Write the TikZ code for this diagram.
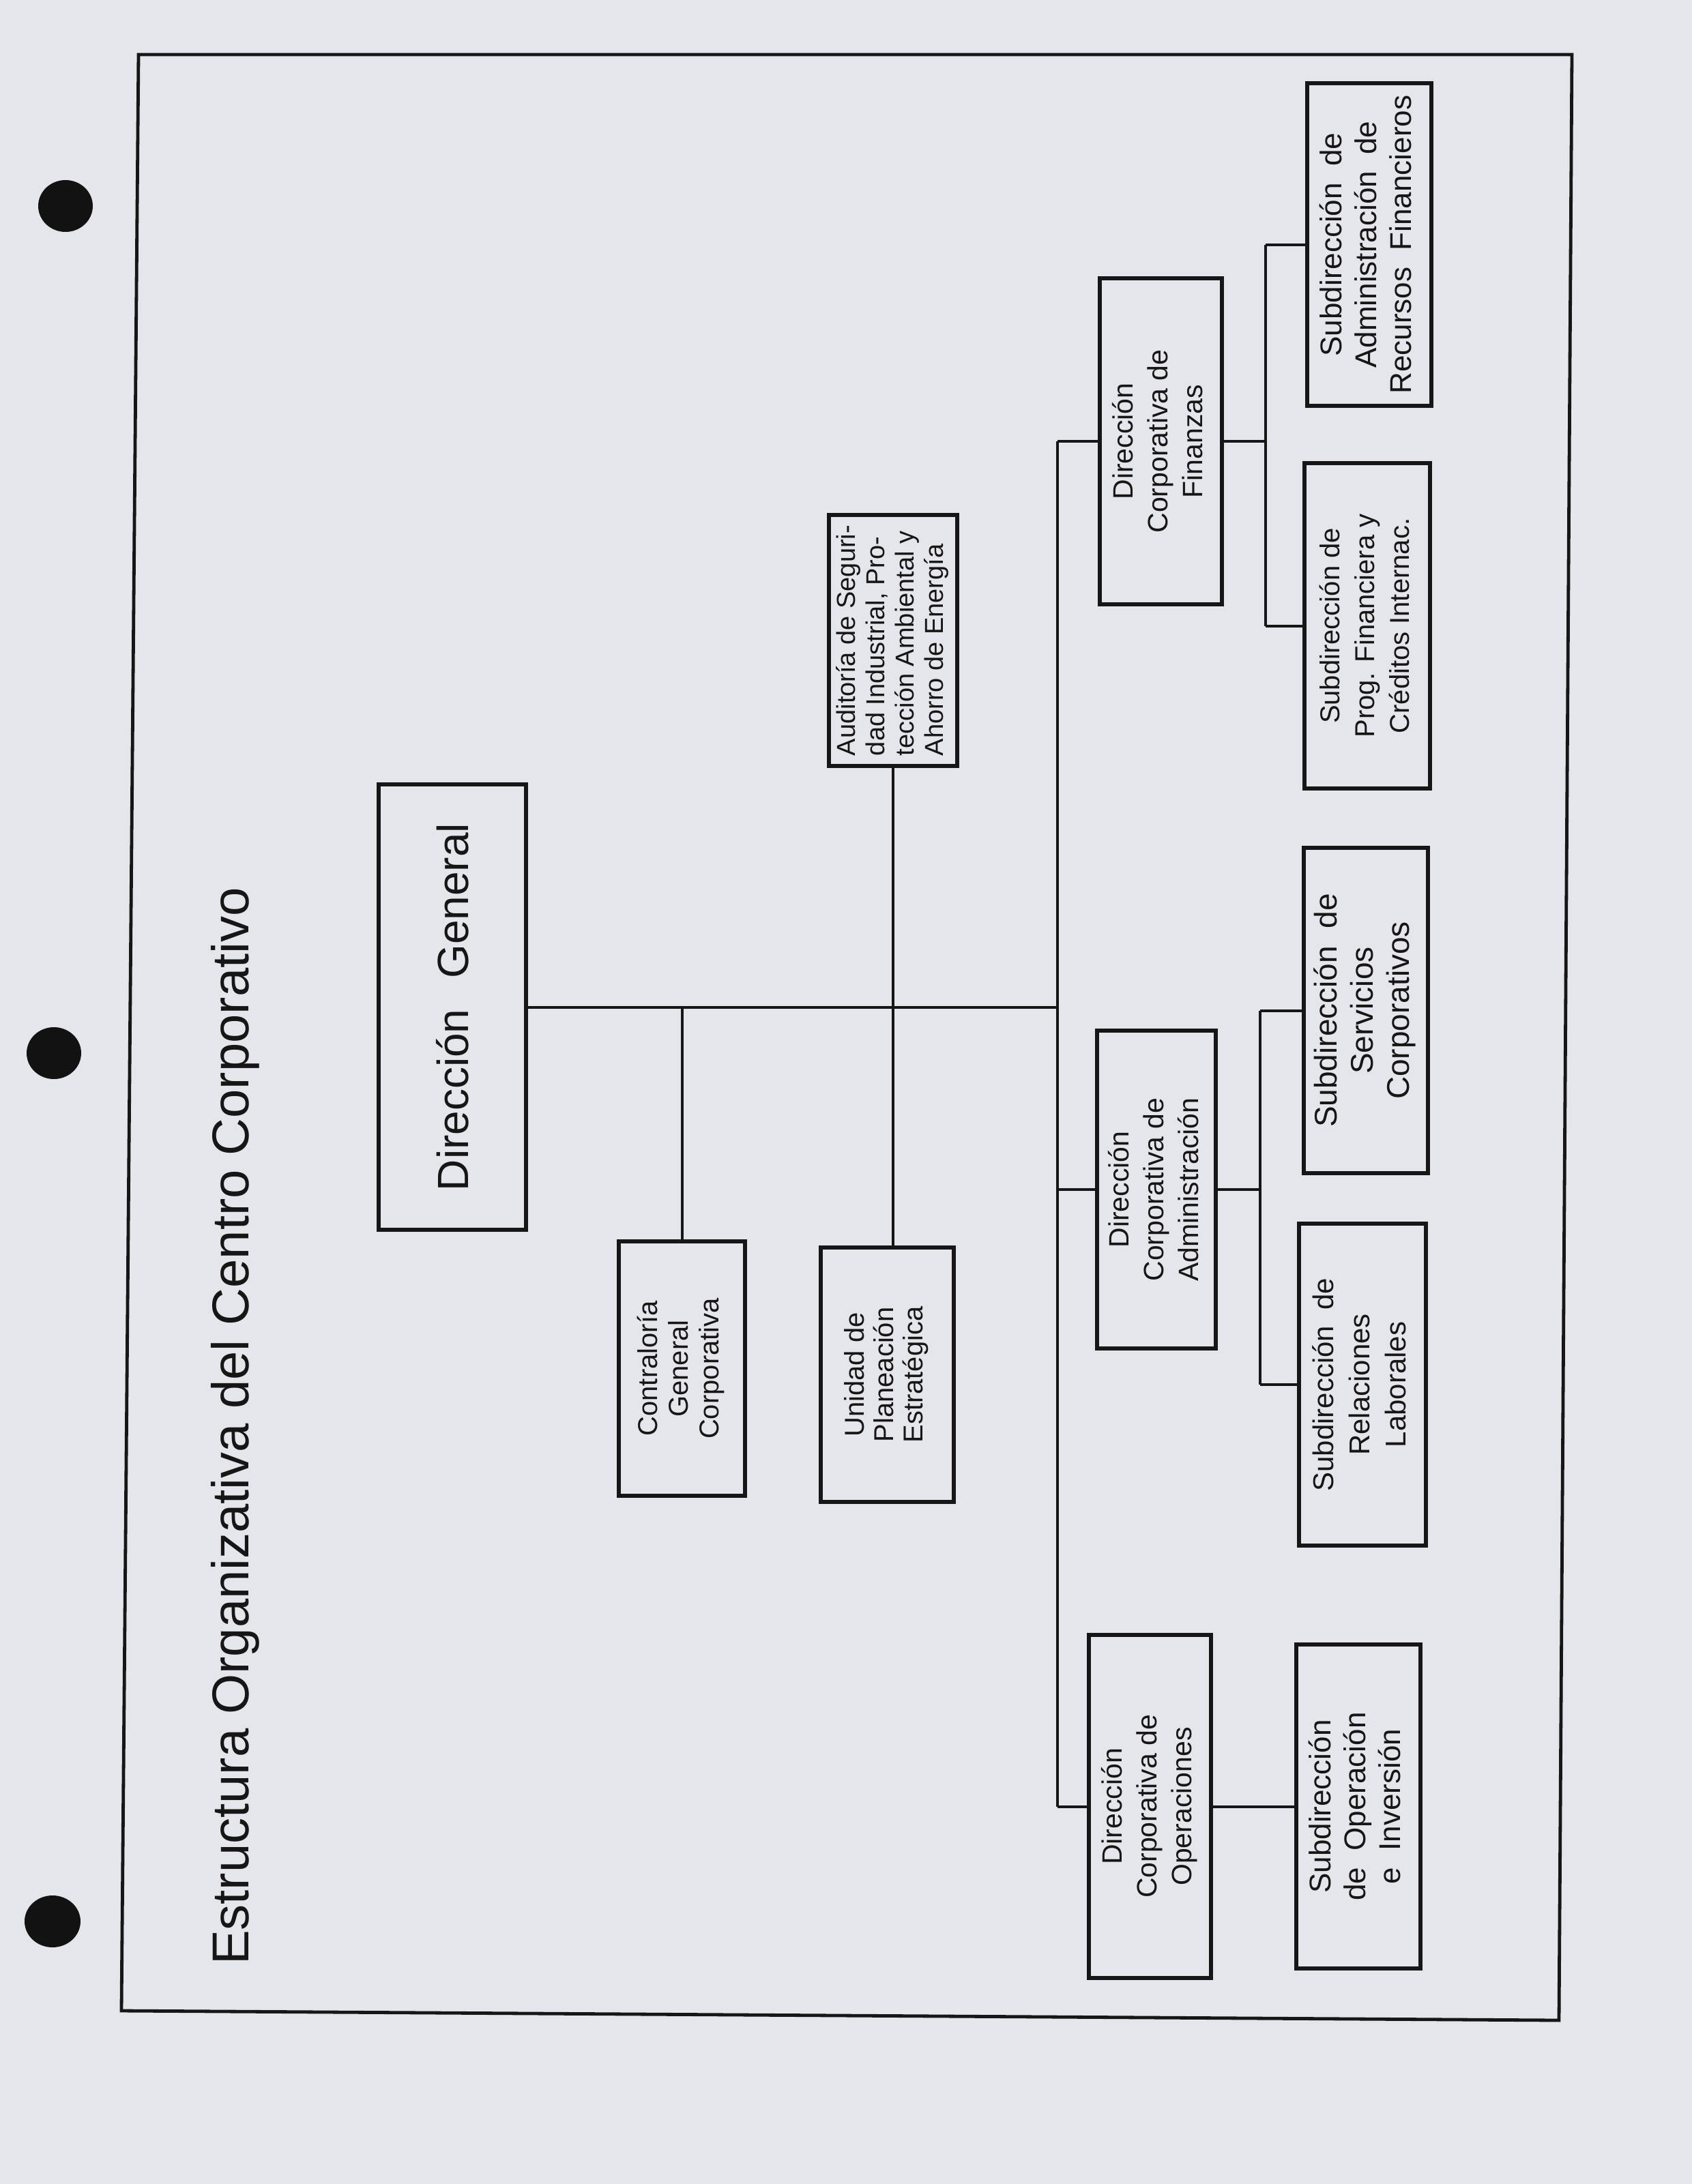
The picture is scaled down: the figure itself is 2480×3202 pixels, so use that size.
\documentclass[tikz,border=0pt]{standalone}
\usepackage{fontspec}
\setmainfont{Liberation Sans}
\usepackage{graphicx}
\definecolor{paper}{RGB}{229,229,236}
\definecolor{ink}{RGB}{22,22,22}
\definecolor{hole}{RGB}{18,18,18}
\tikzset{
  wh/.style 2 args={minimum width=#1*0.25pt, minimum height=#2*0.25pt},
  orgbox/.style={draw=ink, line width=1.3pt, rectangle, inner sep=0pt, text=ink},
  link/.style={draw=ink, line width=1pt},
  frameline/.style={draw=ink, line width=1.2pt, line join=miter},
}
\newcommand\ctext[3]{\rotatebox{90}{\fontsize{#1}{#2}\selectfont\begin{tabular}{@{}c@{}}#3\end{tabular}}}
\newcommand\ltext[3]{\rotatebox{90}{\fontsize{#1}{#2}\selectfont\begin{tabular}{@{}l@{}}#3\end{tabular}}}
\begin{document}
\begin{tikzpicture}[x=0.25pt, y=-0.25pt]
\useasboundingbox (0,0) rectangle (2480,3202);
\fill[paper] (0,0) rectangle (2480,3202);
% binder holes
\fill[hole] (96,302) ellipse [x radius=40*0.25pt, y radius=38*0.25pt];
\fill[hole] (79,1544) ellipse [x radius=40*0.25pt, y radius=38*0.25pt];
\fill[hole] (77,2817) ellipse [x radius=41*0.25pt, y radius=38*0.25pt];
% frame
\draw[frameline] (203,80) -- (2304,80) -- (2285,2962) -- (178,2948) -- cycle;
% title
\node[rotate=90, anchor=base, inner sep=0pt, text=ink, font=\fontsize{19}{23}\selectfont] (title) at (364,2091) {Estructura Organizativa del Centro Corporativo};
% boxes
\node[orgbox, wh={216}{653}] (dg) at (663,1476.5) {\rotatebox{90}{\fontsize{16}{19}\selectfont Dirección\hspace{0.7em}General}};
\node[orgbox, wh={185}{373}] (con) at (999.5,2006.5) {\ctext{10}{11.25}{Contraloría\\General\\Corporativa}};
\node[orgbox, wh={195}{373}] (uni) at (1300.5,2015.5) {\ctext{10}{10.75}{Unidad de\\Planeación\\Estratégica}};
\node[orgbox, wh={188}{368}] (aud) at (1309,939) {\ltext{9.5}{10.75}{Auditoría de Seguri-\\dad Industrial, Pro-\\tección Ambiental y\\Ahorro de Energía}};
\node[orgbox, wh={179}{478}] (fin) at (1701.5,647) {\ctext{10.25}{12.75}{Dirección\\Corporativa de\\Finanzas}};
\node[orgbox, wh={174}{466}] (adm) at (1695,1744) {\ctext{10.25}{12.75}{Dirección\\Corporativa de\\Administración}};
\node[orgbox, wh={179}{503}] (ope) at (1685.5,2648.5) {\ctext{10.25}{12.75}{Dirección\\Corporativa de\\Operaciones}};
\node[orgbox, wh={182}{473}] (sarf) at (2007,358.5) {\ctext{11}{12.75}{Subdirección~~de\\Administración~~de\\Recursos~~Financieros}};
\node[orgbox, wh={184}{477}] (sprog) at (2004,917.5) {\ctext{10}{12.75}{Subdirección de\\Prog. Financiera y\\Créditos Internac.}};
\node[orgbox, wh={182}{477}] (sserv) at (2002,1481.5) {\ctext{11.5}{13.25}{Subdirección~~de\\Servicios\\Corporativos}};
\node[orgbox, wh={186}{472}] (srel) at (1997,2030) {\ctext{10.5}{13.25}{Subdirección~~de\\Relaciones\\Laborales}};
\node[orgbox, wh={182}{475}] (sop) at (1991,2648.5) {\ctext{11}{12.75}{Subdirección\\de~~Operación\\e~~Inversión}};
% connectors
\coordinate (trunk) at (1550,1476.5);
\coordinate (bF) at (1855,647);
\coordinate (bA) at (1847,1744);
\draw[link] (dg.east) -- (trunk);
\draw[link] (con.north |- dg.east) -- (con.north);
\draw[link] (aud.south) -- (aud.south |- uni.north);
\draw[link] (fin.west -| trunk) -- (ope.west -| trunk);
\draw[link] (fin.west -| trunk) -- (fin.west);
\draw[link] (adm.west -| trunk) -- (adm.west);
\draw[link] (ope.west -| trunk) -- (ope.west);
\draw[link] (fin.east) -- (bF);
\draw[link] (sarf.west -| bF) -- (sprog.west -| bF);
\draw[link] (sarf.west -| bF) -- (sarf.west);
\draw[link] (sprog.west -| bF) -- (sprog.west);
\draw[link] (adm.east) -- (bA);
\draw[link] (sserv.west -| bA) -- (srel.west -| bA);
\draw[link] (sserv.west -| bA) -- (sserv.west);
\draw[link] (srel.west -| bA) -- (srel.west);
\draw[link] (ope.east) -- (sop.west);
\end{tikzpicture}
\end{document}
